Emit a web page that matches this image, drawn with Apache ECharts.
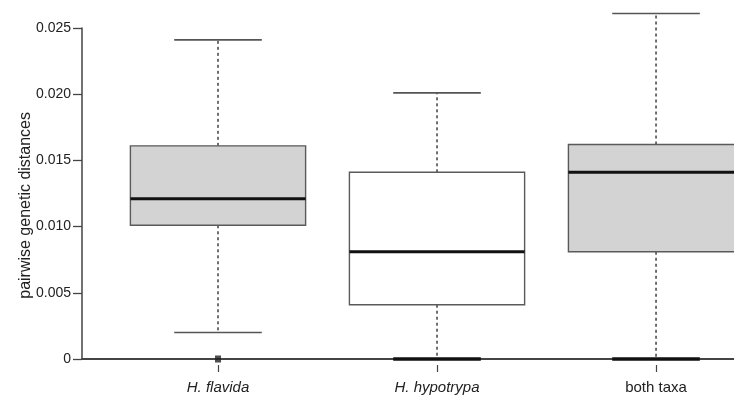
<!DOCTYPE html>
<html><head><meta charset="utf-8">
<script src="https://cdn.jsdelivr.net/npm/echarts@6/dist/echarts.min.js"></script>
<style>html,body{margin:0;padding:0;background:#fff}#c{width:734px;height:398px}</style>
</head><body><div id="c"></div>
<script>
// ---- data ----
const categories = ['H. flavida', 'H. hypotrypa', 'both taxa'];
const categoryPositions = [1, 2, 3];
const whiskerLow = [0.0020, 0.0000, 0.0000];
const q1Values = [0.0101, 0.0041, 0.0081];
const medianValues = [0.0121, 0.0081, 0.0141];
const q3Values = [0.0161, 0.0141, 0.0162];
const whiskerHigh = [0.0241, 0.0201, 0.0261];
const outlierPositions = [1];
const outlierValues = [0.0000];
const yTicks = [0, 0.005, 0.010, 0.015, 0.020, 0.025];
const yTickLabels = ['0', '0.005', '0.010', '0.015', '0.020', '0.025'];
const yAxisTitle = 'pairwise genetic distances';

// ---- styles ----
const boxFills = ['#d3d3d3', '#ffffff', '#d3d3d3'];
const FONT = 'Liberation Sans, Arial, sans-serif';

const boxData = categoryPositions.map((p, i) =>
  [p, whiskerLow[i], q1Values[i], medianValues[i], q3Values[i], whiskerHigh[i]]);
const outlierData = outlierPositions.map((p, i) => [p, outlierValues[i]]);

const chart = echarts.init(document.getElementById('c'), null, {renderer: 'canvas'});

function renderBox(params, api) {
  const x = api.value(0);
  const vMin = api.value(1), vQ1 = api.value(2), vMed = api.value(3), vQ3 = api.value(4), vMax = api.value(5);
  const bw = api.size([1, 0])[0] * 0.8;
  const hw = bw / 2, cw = bw / 4;
  const pMin = api.coord([x, vMin]);
  const pQ1 = api.coord([x, vQ1]);
  const pMed = api.coord([x, vMed]);
  const pQ3 = api.coord([x, vQ3]);
  const pMax = api.coord([x, vMax]);
  const cx = pMed[0];
  const idx = params.dataIndex;
  const dash = {stroke: '#333', lineWidth: 1.4, lineDash: [3, 3]};
  const capStyle = {stroke: '#555', lineWidth: 1.6};
  const lowCapStyle = vMin === 0 ? {stroke: '#111', lineWidth: 3.5} : capStyle;
  return {
    type: 'group',
    children: [
      {type: 'line', shape: {x1: cx, y1: pQ3[1], x2: cx, y2: pMax[1]}, style: dash},
      {type: 'line', shape: {x1: cx, y1: pQ1[1], x2: cx, y2: pMin[1]}, style: dash},
      {type: 'line', shape: {x1: cx - cw, y1: pMax[1], x2: cx + cw, y2: pMax[1]}, style: capStyle},
      {type: 'line', shape: {x1: cx - cw, y1: pMin[1], x2: cx + cw, y2: pMin[1]}, style: lowCapStyle},
      {type: 'rect', shape: {x: cx - hw, y: pQ3[1], width: bw, height: pQ1[1] - pQ3[1]},
        style: {fill: boxFills[idx], stroke: '#5a5a5a', lineWidth: 1.4}},
      {type: 'line', shape: {x1: cx - hw, y1: pMed[1], x2: cx + hw, y2: pMed[1]},
        style: {stroke: '#111', lineWidth: 3}}
    ]
  };
}

const X_MIN = 0.379, X_MAX = 3.356;

chart.setOption({
  animation: false,
  backgroundColor: '#fff',
  textStyle: {fontFamily: FONT},
  grid: {left: 82, right: 0, top: 28, bottom: 39, containLabel: false},
  graphic: [{
    type: 'text', left: 18, top: 112, rotation: Math.PI / 2,
    style: {text: yAxisTitle, fontSize: 16, fill: '#222', fontFamily: FONT}
  }],
  xAxis: [
    {
      type: 'value', min: X_MIN, max: X_MAX, position: 'bottom',
      axisLine: {show: true, lineStyle: {color: '#444', width: 2}},
      axisTick: {show: false}, axisLabel: {show: false}, splitLine: {show: false}
    },
    {
      type: 'value', min: X_MIN, max: X_MAX, position: 'bottom', offset: 6,
      axisLine: {show: false},
      axisTick: {show: true, customValues: categoryPositions, length: 7, lineStyle: {color: '#444', width: 1.2}},
      axisLabel: {
        show: true, customValues: categoryPositions, margin: 15,
        fontSize: 15, color: '#222', fontFamily: FONT,
        formatter: function (v) {
          const i = Math.round(v) - 1;
          const name = categories[i];
          return i < 2 ? '{it|' + name + '}' : '{nm|' + name + '}';
        },
        rich: {
          it: {fontStyle: 'italic', fontSize: 15, color: '#222', fontFamily: FONT},
          nm: {fontSize: 15, color: '#222', fontFamily: FONT}
        }
      },
      splitLine: {show: false}
    }
  ],
  yAxis: {
    type: 'value', min: 0, max: 0.025, interval: 0.005,
    axisLine: {show: true, lineStyle: {color: '#444', width: 1.5}},
    axisTick: {show: true, length: 9, lineStyle: {color: '#444', width: 1.3}},
    axisLabel: {
      fontSize: 14, color: '#222', margin: 11, fontFamily: FONT,
      formatter: function (v) {
        let best = 0;
        yTicks.forEach((t, i) => { if (Math.abs(t - v) < Math.abs(yTicks[best] - v)) best = i; });
        return yTickLabels[best];
      }
    },
    splitLine: {show: false}
  },
  series: [
    {
      type: 'custom', xAxisIndex: 0, yAxisIndex: 0, z: 3,
      renderItem: renderBox,
      encode: {x: 0, y: [1, 2, 3, 4, 5]},
      data: boxData
    },
    {
      type: 'scatter', xAxisIndex: 0, yAxisIndex: 0, z: 5,
      symbol: 'rect', symbolSize: [6, 7],
      itemStyle: {color: '#222'},
      data: outlierData
    }
  ]
});
</script>
</body></html>
